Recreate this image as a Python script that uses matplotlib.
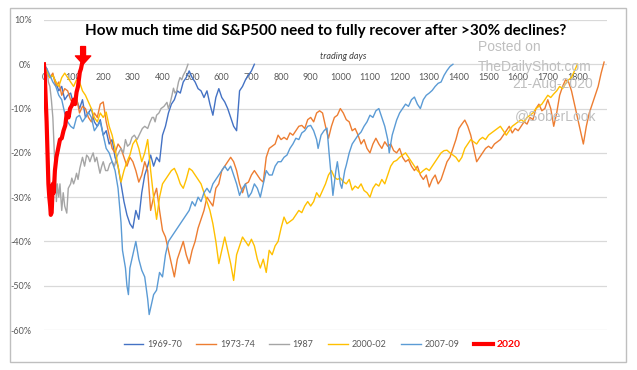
"""
S&P500 recovery after >30% declines, recreated with matplotlib.
"""

import matplotlib
matplotlib.use("Agg")
import matplotlib.pyplot as plt
import matplotlib.ticker as mticker
from matplotlib.patches import Rectangle

# ---- data (trading days since peak, % below peak) ----
days_6970 = list(range(0, 720, 10))
pct_6970 = [0, -1.5, -3, -2.5, -4, -6, -5, -8, -7, -6.5,
            -9, -8, -10, -8, -12, -11, -10, -13, -14, -12.5,
            -16, -15, -18, -17, -21, -23, -27, -31, -34, -36,
            -37, -33, -35, -29, -25, -23, -20.5, -23, -21, -22,
            -16, -14, -11, -9, -8, -6, -6.5, -4, -3, -1.5,
            -3, -4, -5.5, -6, -7.5, -6, -9, -11.5, -7.5, -5.5,
            -7.5, -8.5, -10, -12, -14, -15, -6, -5, -3.5, -2.5,
            -1.5, 0]

days_7374 = list(range(0, 1900, 10))
pct_7374 = [0, -2, -3, -2, -5, -4, -7, -5.5, -6, -8,
            -9, -7.5, -11, -9.5, -10, -12, -13, -11, -12, -9,
            -8.5, -13, -16, -19, -20, -18, -19, -21, -23, -21,
            -22, -24, -26.6, -25, -22, -24, -33, -30, -28, -33,
            -37.5, -39, -42, -45, -48, -44, -42, -40, -43, -45,
            -42, -40, -37, -35, -33, -30, -31, -32, -28, -27,
            -24, -23, -22, -21, -22, -24, -27, -29, -27, -26.6,
            -25, -24, -25, -26, -26.6, -21, -19, -18.5, -18, -16,
            -17, -16.5, -17, -15.5, -16, -15, -14, -13.8, -14.5, -12.5,
            -12, -13, -11, -10.5, -11, -14, -16.7, -14, -12, -11.5,
            -10, -11, -12.5, -13, -15, -14.5, -16, -18, -17, -19,
            -20, -18, -16.7, -18, -19, -17.5, -18.5, -18, -19.5, -20,
            -19, -21, -22, -21.5, -23, -24, -23, -25, -26, -25,
            -27.7, -26, -25, -27, -26, -24, -22, -21, -19, -17,
            -14.5, -13.5, -12.6, -14, -16, -19, -22, -21, -20, -19,
            -18.5, -19, -18, -17.5, -17, -16, -15, -14, -15.5, -14.5,
            -15, -14, -13, -13.5, -12, -12.5, -10, -9, -10.5, -10,
            -8, -10, -14, -11, -7, -5, -3.5, -4, -6, -9,
            -12, -15, -18, -14, -11, -9, -7, -5, -2, 0.5]

days_1987 = [0, 5, 10, 15, 20, 25, 30, 35, 38, 42, 45, 50, 54, 60, 65, 70, 77, 82, 90,
             94, 100, 105, 110, 115, 121, 130, 137, 144, 150, 155, 160, 166, 172, 178,
             184, 189, 195, 200, 208, 215, 222, 230, 238, 245, 252, 260, 268, 275, 282,
             290, 297, 305, 314, 324, 332, 340, 350, 358, 365, 370, 375, 380, 388, 395,
             405, 415, 420, 425, 432, 437, 442, 448, 454, 459, 465, 470, 478, 486]
pct_1987 = [0, -2, -1, -4, -5, -8, -12, -20, -24, -31, -27, -30, -27, -33, -29, -32,
            -33.6, -28, -27, -25.7, -27, -26, -24.6, -26, -23.5, -21, -23, -20.5, -21,
            -22, -21, -20, -22, -21, -23, -24.6, -23, -22, -24, -24, -22.5, -22, -23,
            -21, -20, -19, -20, -17, -18.5, -18, -16.5, -16, -17, -15.6, -14.5, -14,
            -14.5, -13, -12, -12, -13, -11.5, -11, -10, -9.5, -8.6, -10, -9, -7, -5.4,
            -6.5, -6, -4, -3, -3.5, -2.5, -1.5, 0]

days_0002 = list(range(0, 1810, 10))
pct_0002 = [0, -1.5, -3, -2.5, -4, -5, -3, -2, -3, -4,
            -5, -3.5, -4, -6, -7, -8.5, -10, -12, -13, -11,
            -12, -10.8, -14, -16, -19, -23, -26.6, -24, -22, -20.5,
            -18, -17, -19, -22, -20, -17, -24, -30, -35, -30,
            -27, -26, -25, -24, -23.5, -25, -27, -28, -26, -23.5,
            -24, -25, -26, -27, -29, -31, -33, -36, -40, -45,
            -42, -39, -42, -45, -48.8, -43, -41, -39, -40, -41,
            -39.5, -41, -44, -46, -44, -47, -42, -43, -41, -40,
            -37, -34.5, -36, -35.5, -35, -34, -33, -33.5, -32, -31,
            -32, -31, -29, -30, -28.5, -27, -25, -24, -25.5, -26,
            -25.7, -26.5, -27, -26, -28.4, -27.5, -28, -27, -28.5, -29,
            -30, -28, -27, -27.5, -26, -27, -25, -23, -22, -21.7,
            -21, -20.5, -20, -21, -22, -23, -24, -24.6, -24, -23.5,
            -24, -23, -22, -21, -20, -19.5, -19.4, -20, -20.5, -21,
            -22, -21, -19, -18, -17, -17.5, -18, -17, -16.5, -17,
            -16, -15.5, -15, -14.5, -14, -15, -16, -15, -14, -13.5,
            -13, -12.5, -13, -12, -11.5, -11, -10, -9.5, -9, -8,
            -7, -7.5, -6.7, -6, -5, -5.5, -4.4, -3.5, -3, -1.5,
            0]

days_0709 = [0, 10, 20, 30, 40, 50, 60, 70, 80, 90, 100, 110, 120, 130, 140, 150, 160,
             170, 180, 190, 200, 210, 220, 230, 240, 250, 260, 265, 270, 275, 280, 285,
             290, 300, 310, 320, 330, 340, 350, 355, 360, 370, 380, 390, 400, 410, 420,
             430, 440, 450, 460, 470, 480, 490, 500, 510, 520, 530, 540, 550, 560, 570,
             580, 590, 600, 610, 620, 630, 640, 650, 660, 670, 680, 690, 700, 710, 720,
             730, 740, 750, 760, 770, 780, 790, 800, 810, 820, 830, 840, 850, 860, 870,
             880, 890, 900, 910, 920, 925, 935, 945, 955, 962, 970, 975, 985, 990, 1000,
             1005, 1015, 1020, 1030, 1040, 1050, 1060, 1070, 1080, 1090, 1100, 1110,
             1120, 1130, 1140, 1150, 1160, 1165, 1175, 1190, 1200, 1210, 1220, 1230,
             1240, 1250, 1260, 1270, 1280, 1290, 1300, 1310, 1320, 1330, 1340, 1350,
             1360, 1370, 1380]
pct_0709 = [0, -1, -2.5, -4, -5, -7, -8, -11, -13, -14, -14.5, -12, -11.5, -13, -12,
            -10.8, -12, -15, -14, -13, -16, -19, -20, -22, -24, -28, -35.7, -42, -44,
            -46, -50, -52, -46, -43, -40, -44, -46.5, -48, -53, -56.5, -55, -52, -51,
            -47, -48, -43, -40, -39, -38, -37, -36, -35, -34, -33, -31, -32, -30, -31,
            -29, -28, -29, -27, -26, -25, -24, -23, -24, -23, -25, -27, -29.6, -28, -27,
            -30, -29, -27, -28, -30, -27, -24, -25, -25, -23, -22, -22, -21, -20.5, -19,
            -18, -16.7, -17, -15.5, -15, -14, -13.8, -15, -17, -19, -16, -15, -14.4, -20,
            -26, -29.6, -24, -22, -27, -28, -24, -22.8, -20, -18, -17, -16, -15.3, -14,
            -13, -11.5, -12, -10.5, -10, -12, -14, -17, -20, -16, -12.6, -11, -10, -9,
            -9.5, -8, -7.4, -9, -10, -8, -7, -6.5, -5.9, -5, -4.3, -4, -2.5, -1.4, -0.5, 0]

days_2020 = [0, 3, 6, 9, 12, 15, 18, 21, 23, 26, 30, 33, 37, 42, 48, 54, 60, 66, 72, 77,
             83, 88, 94, 100, 105, 110, 115, 121, 125, 128]
pct_2020 = [0, -3, -8, -13, -20, -27, -30, -32, -34, -33.5, -27, -29, -24, -21, -19, -17,
            -16.7, -15, -13.8, -11, -12, -10, -9.3, -8, -9, -6.3, -5, -1.8, -1, 0]

SERIES = [
    ("1969-70", days_6970, pct_6970, "#4472C4", 1.0),
    ("1973-74", days_7374, pct_7374, "#ED7D31", 1.0),
    ("1987",    days_1987, pct_1987, "#A5A5A5", 1.0),
    ("2000-02", days_0002, pct_0002, "#FFC000", 1.0),
    ("2007-09", days_0709, pct_0709, "#5B9BD5", 1.0),
    ("2020",    days_2020, pct_2020, "#FF0000", 3.0),
]

x_ticks = list(range(0, 1900, 100))
y_ticks = [10, 0, -10, -20, -30, -40, -50, -60]

GRAY_TXT = "#595959"

plt.rcParams.update({
    "font.family": ["Lato", "DejaVu Sans"],
})

fig = plt.figure(figsize=(6.37, 3.70), dpi=100)
fig.patches.append(Rectangle((0.0157, 0.0216), 0.967, 0.957, transform=fig.transFigure,
                             fill=False, edgecolor="#BFBFBF", linewidth=1.0))

ax = fig.add_axes([0.069, 0.108, 0.884, 0.838])

for name, d, p, col, lw in SERIES:
    ax.plot(d, p, color=col, linewidth=lw, label=name, solid_joinstyle="round")

ax.set_xlim(0, 1900)
ax.set_ylim(-60, 10)
ax.set_yticks(y_ticks)
ax.yaxis.set_major_formatter(mticker.FuncFormatter(lambda v, _: f"{int(v)}%"))
ax.grid(axis="y", color="#D9D9D9", linewidth=0.9)
ax.set_axisbelow(True)

# x labels sit along the 0% line
ax.set_xticks(x_ticks)
ax.spines["bottom"].set_position(("data", 0))
for s in ax.spines.values():
    s.set_visible(False)
ax.tick_params(axis="both", length=0, labelsize=6.5, labelcolor=GRAY_TXT)
ax.tick_params(axis="x", pad=6)
ax.tick_params(axis="y", pad=9)

ax.text(0.531, 0.881, "trading days", transform=ax.transAxes, ha="center", va="center",
        fontsize=6.5, style="italic", color="#404040")

# arrow pointing at the 2020 recovery
ax.annotate("", xy=(days_2020[-1] + 4, 0), xytext=(days_2020[-1] + 4, 4),
            arrowprops=dict(facecolor="#FF0000", edgecolor="#FF0000",
                            width=3.5, headwidth=11, headlength=6))

fig.text(0.512, 0.916, "How much time did S&P500 need to fully recover after >30% declines?",
         ha="center", va="center", fontsize=11, fontweight="bold", color="black")

wm = dict(color="#BFBFBF", fontsize=10, family="Liberation Sans", va="center")
fig.text(0.799, 0.873, "Posted on", ha="center", **wm)
fig.text(0.750, 0.819, "TheDailyShot.com", ha="left", **wm)
fig.text(0.931, 0.773, "21-Aug-2020", ha="right", **wm)
fig.text(0.937, 0.686, "@SoberLook", ha="right", **wm)

leg = fig.legend(loc="center", bbox_to_anchor=(0.506, 0.068), ncol=6, frameon=False,
                 fontsize=6.5, handlelength=2.2, columnspacing=1.6, handletextpad=0.4)
for t in leg.get_texts():
    t.set_color(GRAY_TXT)
leg.get_texts()[-1].set_color("#FF0000")
leg.get_texts()[-1].set_fontweight("bold")
leg.get_texts()[-1].set_fontsize(7.5)

fig.savefig("out.png", dpi=100)
